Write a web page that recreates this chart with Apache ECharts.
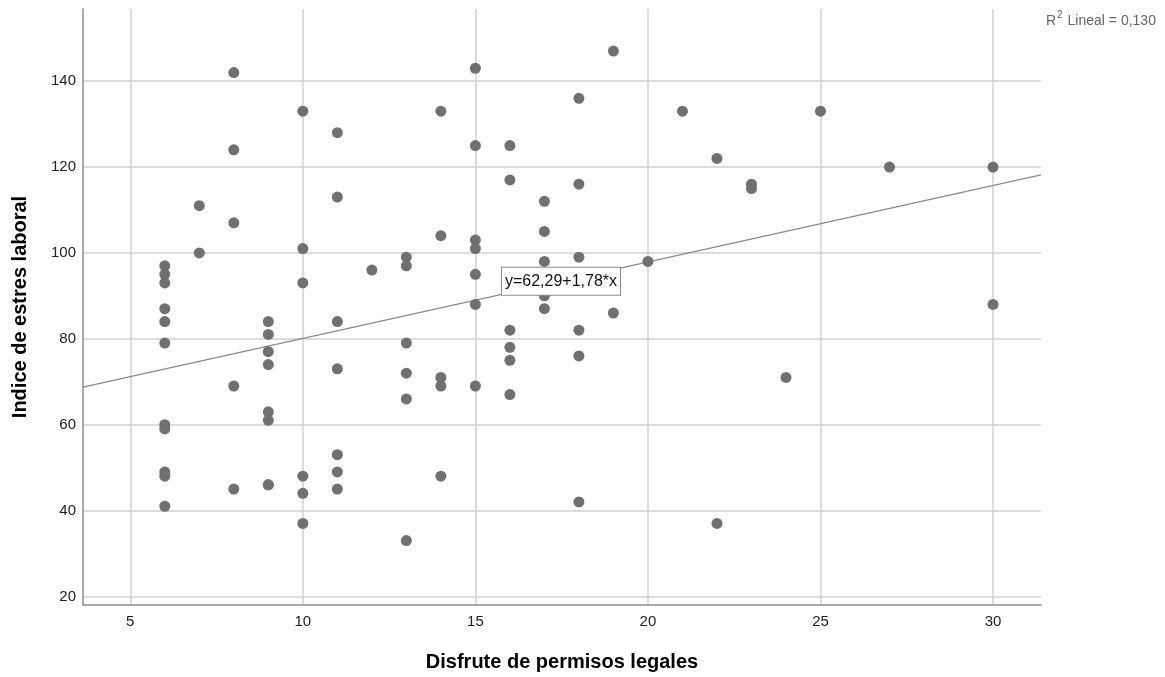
<!DOCTYPE html>
<html>
<head>
<meta charset="utf-8">
<title>Disfrute de permisos legales vs Indice de estres laboral</title>
<script src="https://cdn.jsdelivr.net/npm/echarts@6/dist/echarts.min.js"></script>
<style>
  html, body { margin: 0; padding: 0; background: #fff; }
  #chart { width: 1165px; height: 677px; }
</style>
</head>
<body>
<div id="chart"></div>
<script>
// puntos observados (x = permisos, y = estres)
const xValues = [
  6, 6, 6, 6, 6, 6, 6, 6, 6, 6, 6,
  7, 7,
  8, 8, 8, 8, 8,
  9, 9, 9, 9, 9, 9, 9, 9,
  10, 10, 10, 10, 10, 10,
  11, 11, 11, 11, 11, 11, 11,
  12,
  13, 13, 13, 13, 13, 13,
  14, 14, 14, 14, 14,
  15, 15, 15, 15, 15, 15, 15,
  16, 16, 16, 16, 16, 16,
  17, 17, 17, 17, 17,
  18, 18, 18, 18, 18, 18,
  19, 19,
  20,
  21,
  22, 22,
  23, 23,
  24,
  25,
  27,
  30, 30
]
const yValues = [
  97, 95, 93, 87, 84, 79, 60, 59, 49, 48, 41,
  111, 100,
  142, 124, 107, 69, 45,
  84, 81, 77, 74, 63, 61, 46, 46,
  133, 101, 93, 48, 44, 37,
  128, 113, 84, 73, 53, 49, 45,
  96,
  99, 97, 79, 72, 66, 33,
  133, 104, 71, 69, 48,
  143, 125, 103, 101, 95, 88, 69,
  125, 117, 82, 78, 75, 67,
  112, 105, 98, 90, 87,
  136, 116, 99, 82, 76, 42,
  147, 86,
  98,
  133,
  122, 37,
  116, 115,
  71,
  133,
  120,
  120, 88
]

// ajuste lineal
const intercept = 62.29
const slope = 1.78
const fitText = 'y=62,29+1,78*x'
const r2Text = ' Lineal = 0,130'

const xTicks = [5, 10, 15, 20, 25, 30]
const yTicks = [20, 40, 60, 80, 100, 120, 140]
const xMin = 3.63
const xMax = 31.39
const yMin = 18
const yMax = 156.8
const fitLabelX = 17.48

const points = xValues.map((x, i) => [x, yValues[i]])
const fitLine = [xMin, xMax].map((x) => [x, intercept + slope * x])

const chart = echarts.init(document.getElementById('chart'), null, { renderer: 'canvas' })

const axisLineStyle = { color: '#8c8c8c', width: 1.5 }
const gridLineStyle = { color: '#d0d0d0', width: 1.5 }
const FONT = 'Arial, "Liberation Sans", sans-serif'

chart.setOption({
  backgroundColor: '#fff',
  animation: false,
  title: {
    text: '{r|R}{sup|2}{r|' + r2Text + '}',
    left: 1041,
    top: 5,
    textStyle: {
      fontWeight: 'normal',
      rich: {
        r: { fontFamily: FONT, fontSize: 14, fontWeight: 'normal', color: '#666', lineHeight: 18, verticalAlign: 'bottom' },
        sup: { fontFamily: FONT, fontSize: 10, fontWeight: 'normal', color: '#666', lineHeight: 18, verticalAlign: 'top', padding: [0, 1, 6, 1] },
      },
    },
  },
  grid: {
    left: 83,
    right: 124,
    top: 9,
    bottom: 71,
    containLabel: false,
  },
  xAxis: {
    type: 'value',
    min: xMin,
    max: xMax,
    name: 'Disfrute de permisos legales',
    nameLocation: 'middle',
    nameGap: 47,
    nameTextStyle: { fontFamily: FONT, fontSize: 20, fontWeight: 'bold', color: '#000' },
    axisLine: { show: true, lineStyle: axisLineStyle },
    axisTick: { show: false, customValues: xTicks },
    axisLabel: { customValues: xTicks, fontFamily: FONT, fontSize: 15, color: '#222', margin: 9 },
    splitLine: { show: true, lineStyle: gridLineStyle },
  },
  yAxis: {
    type: 'value',
    min: yMin,
    max: yMax,
    name: 'Indice de estres laboral',
    nameLocation: 'middle',
    nameGap: 53,
    nameTextStyle: { fontFamily: FONT, fontSize: 20, fontWeight: 'bold', color: '#000' },
    axisLine: { show: true, lineStyle: axisLineStyle },
    axisTick: { show: false, customValues: yTicks },
    axisLabel: { customValues: yTicks, fontFamily: FONT, fontSize: 15, color: '#222', margin: 7 },
    splitLine: { show: true, lineStyle: gridLineStyle },
  },
  series: [
    {
      name: 'Lineal',
      type: 'line',
      data: fitLine,
      showSymbol: false,
      silent: true,
      z: 2,
      lineStyle: { color: '#8a8a8a', width: 1.2 },
      markPoint: {
        symbol: 'rect',
        symbolSize: 0,
        data: [{ coord: [fitLabelX, intercept + slope * fitLabelX] }],
        label: {
          show: true,
          position: 'inside',
          formatter: fitText,
          fontFamily: FONT,
          fontSize: 16,
          color: '#111',
          backgroundColor: '#fff',
          borderColor: '#8a8a8a',
          borderWidth: 1,
          padding: [6, 3, 5, 3],
        },
      },
    },
    {
      name: 'Puntos',
      type: 'scatter',
      data: points,
      symbolSize: 11,
      z: 3,
      itemStyle: { color: '#707070', opacity: 1 },
    },
  ],
})
</script>
</body>
</html>
